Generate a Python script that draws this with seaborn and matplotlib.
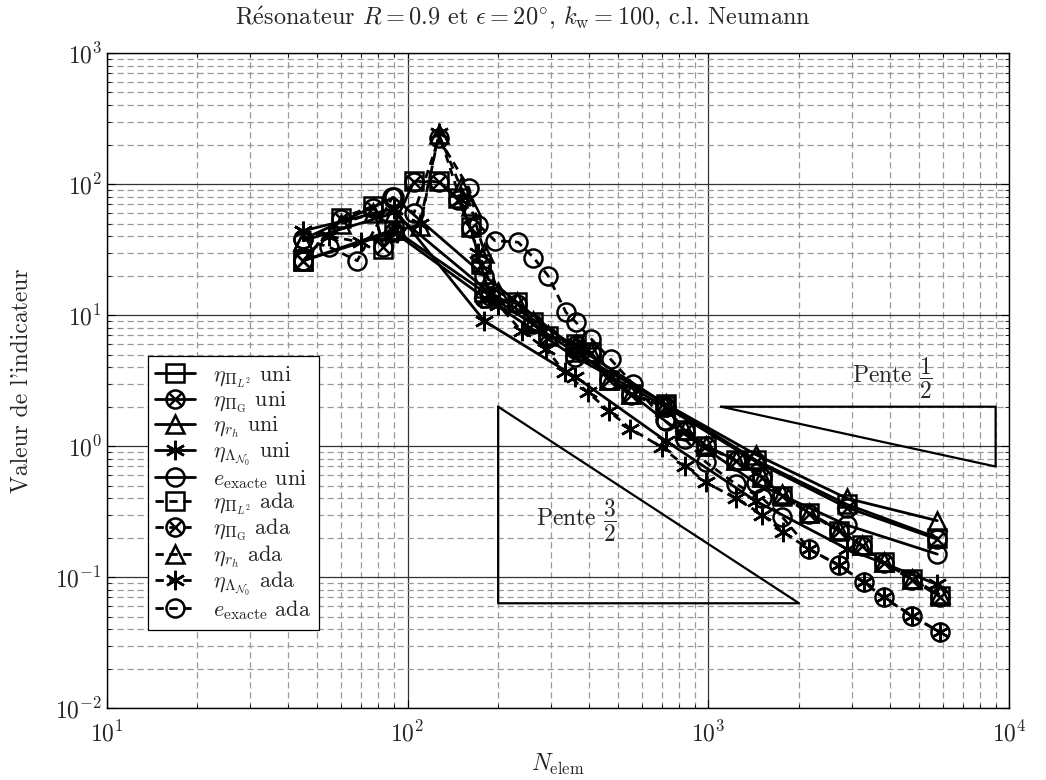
import numpy as np
import pandas as pd
import matplotlib
matplotlib.use("Agg")
from matplotlib import pyplot as plt
from matplotlib.path import Path
from matplotlib.ticker import LogLocator, NullFormatter
import seaborn as sns

# uniform refinement
n_uni = [45, 90, 180, 360, 720, 1440, 2880, 5760]
l2_uni = [26, 45, 15, 5.2, 2.1, 0.78, 0.36, 0.20]
g_uni = [26, 43, 13.6, 4.8, 2.0, 0.76, 0.34, 0.195]
rh_uni = [37, 60, 16, 5.8, 2.1, 0.86, 0.40, 0.27]
lam_uni = [44, 65, 9.0, 3.4, 1.1, 0.38, 0.165, 0.088]
ex_uni = [38, 79, 20, 5.5, 1.55, 0.52, 0.25, 0.15]

# adaptive refinement
n_l2_ada = [45, 60, 77, 83, 105, 127, 147, 162, 175, 188, 231, 262, 293, 363, 407, 467, 551,
            716, 834, 980, 1230, 1510, 1760, 2160, 2710, 3240, 3820, 4730, 5870]
l2_ada = [26, 55, 68, 32, 105, 105, 78, 47, 24.5, 13.6, 12.5, 8.8, 6.9, 6.0, 5.2, 3.2, 2.5,
          2.04, 1.32, 1.01, 0.78, 0.58, 0.42, 0.31, 0.227, 0.175, 0.13, 0.097, 0.072]
n_g_ada = [45, 60, 77, 83, 105, 127, 147, 162, 175, 188, 231, 262, 293, 363, 407, 467, 551,
           716, 834, 980, 1230, 1510, 1760, 2160, 2710, 3240, 3820, 4730, 5870]
g_ada = [26, 54, 66, 33, 104, 104, 76, 46, 24, 14, 12.2, 8.6, 6.8, 5.9, 5.1, 3.2, 2.45,
         2.0, 1.3, 1.0, 0.77, 0.57, 0.42, 0.305, 0.225, 0.172, 0.128, 0.096, 0.071]
n_rh_ada = [45, 60, 77, 92, 110, 127, 150, 162, 180, 200, 231, 262, 293, 363, 407, 467, 551,
            716, 834, 980, 1230, 1510, 1760, 2160, 2710, 3240, 3820, 4730, 5870]
rh_ada = [37, 50, 60, 45, 48, 240, 95, 68, 30, 15, 12.5, 9.0, 7.0, 6.0, 5.2, 3.2, 2.5,
          2.04, 1.32, 1.01, 0.78, 0.58, 0.43, 0.31, 0.23, 0.175, 0.13, 0.097, 0.074]
n_lam_ada = [45, 55, 70, 92, 110, 127, 150, 172, 200, 240, 289, 333, 398, 466, 550, 700,
             834, 980, 1230, 1510, 1775, 2160, 2710, 3280, 3820, 4730, 5870]
lam_ada = [44, 40, 36, 42, 50, 245, 75, 30, 12, 7.5, 5.5, 3.65, 2.57, 1.86, 1.36, 0.98,
           0.71, 0.53, 0.40, 0.30, 0.22, 0.164, 0.123, 0.092, 0.070, 0.051, 0.038]
n_ex_ada = [45, 55, 68, 89, 105, 127, 160, 172, 195, 233, 262, 293, 336, 363, 407, 473, 560,
            716, 834, 980, 1230, 1510, 1755, 2160, 2710, 3280, 3820, 4730, 5870]
ex_ada = [38, 33, 26, 79, 60, 223, 93, 49, 37, 36, 27.5, 20, 10.5, 8.8, 6.6, 4.6, 3.0,
          1.57, 1.14, 0.755, 0.515, 0.40, 0.29, 0.164, 0.123, 0.092, 0.070, 0.051, 0.038]

labels = [r"$\eta_{\Pi_{L^2}}$ uni", r"$\eta_{\Pi_\mathrm{G}}$ uni", r"$\eta_{r_h}$ uni",
          r"$\eta_{\Lambda_{\mathcal{N}_0}}$ uni", r"$e_\mathrm{exacte}$ uni",
          r"$\eta_{\Pi_{L^2}}$ ada", r"$\eta_{\Pi_\mathrm{G}}$ ada", r"$\eta_{r_h}$ ada",
          r"$\eta_{\Lambda_{\mathcal{N}_0}}$ ada", r"$e_\mathrm{exacte}$ ada"]

series = [(n_uni, l2_uni), (n_uni, g_uni), (n_uni, rh_uni), (n_uni, lam_uni), (n_uni, ex_uni),
          (n_l2_ada, l2_ada), (n_g_ada, g_ada), (n_rh_ada, rh_ada), (n_lam_ada, lam_ada),
          (n_ex_ada, ex_ada)]

sns.set_style("ticks")
plt.rcParams["font.family"] = ["cmr10", "DejaVu Serif"]
plt.rcParams["mathtext.fontset"] = "cm"
plt.rcParams["axes.formatter.use_mathtext"] = True
plt.rcParams["font.size"] = 16

# circle with a cross
d = 0.7071
otimes = Path.make_compound_path(
    Path.unit_circle(),
    Path([(-d, -d), (d, d), (-d, d), (d, -d)],
         [Path.MOVETO, Path.LINETO, Path.MOVETO, Path.LINETO]))
markers = ["s", otimes, "^", (6, 2, 0), "o"] * 2
msizes = [13, 13, 13, 14, 13] * 2

fig = plt.figure(figsize=(10.46, 7.8), dpi=100)
ax = fig.add_axes([0.102, 0.092, 0.863, 0.84])

for i, ((nx, vy), lab) in enumerate(zip(series, labels)):
    df = pd.DataFrame({"N": nx, "v": vy})
    ls = "-" if i < 5 else (0, (3, 2))
    sns.lineplot(data=df, x="N", y="v", ax=ax, color="k", linewidth=2.0, linestyle=ls,
                 marker=markers[i], markersize=msizes[i], markerfacecolor="none",
                 markeredgecolor="k", markeredgewidth=1.8, estimator=None, sort=False,
                 label=lab)

# slope triangles
ax.plot([200, 200, 2000, 200], [2.0, 2.0 * 10 ** -1.5, 2.0 * 10 ** -1.5, 2.0],
        color="k", lw=1.6)
ax.plot([1100, 9000, 9000, 1100], [2.0, 2.0, 2.0 * (1100 / 9000) ** 0.5, 2.0],
        color="k", lw=1.6)
ax.text(365, 0.27, r"Pente $\dfrac{3}{2}$", ha="center", va="center", fontsize=17)
ax.text(4100, 3.3, r"Pente $\dfrac{1}{2}$", ha="center", va="center", fontsize=17)

ax.set_xscale("log")
ax.set_yscale("log")
ax.set_xlim(10, 1e4)
ax.set_ylim(1e-2, 1e3)
ax.xaxis.set_major_locator(LogLocator(base=10, numticks=10))
ax.yaxis.set_major_locator(LogLocator(base=10, numticks=10))
ax.xaxis.set_minor_locator(LogLocator(base=10, subs=np.arange(2, 10), numticks=20))
ax.yaxis.set_minor_locator(LogLocator(base=10, subs=np.arange(2, 10), numticks=20))
ax.xaxis.set_minor_formatter(NullFormatter())
ax.yaxis.set_minor_formatter(NullFormatter())
ax.grid(True, which="major", color="0.2", linestyle="-", linewidth=0.9)
ax.grid(True, which="minor", color="0.6", linestyle=(0, (5, 3)), linewidth=0.9)
ax.tick_params(which="both", direction="in", top=True, right=True, color="k")
ax.tick_params(which="major", length=6, labelsize=17)
ax.tick_params(axis="x", which="major", pad=9)
ax.tick_params(which="minor", length=3)
for s in ax.spines.values():
    s.set_color("k")
    s.set_linewidth(1.0)

ax.set_xlabel(r"$N_\mathrm{elem}$", fontsize=17, labelpad=4)
ax.set_ylabel("Valeur de l'indicateur", fontsize=17, labelpad=16)
ax.set_title(r"R$\acute{\rm e}$sonateur $R = 0.9$ et $\epsilon = 20^{\circ}$, "
             r"$k_\mathrm{w} = 100$, c.l. Neumann", fontsize=17.5, pad=20, x=0.461)

leg = ax.legend(loc="lower left", bbox_to_anchor=(0.033, 0.103), fontsize=16,
                frameon=True, fancybox=False, framealpha=1, edgecolor="k",
                handlelength=1.8, labelspacing=0.0, borderpad=0.35, handletextpad=0.8)
leg.get_frame().set_linewidth(0.9)

fig.savefig("out.png", dpi=100)
